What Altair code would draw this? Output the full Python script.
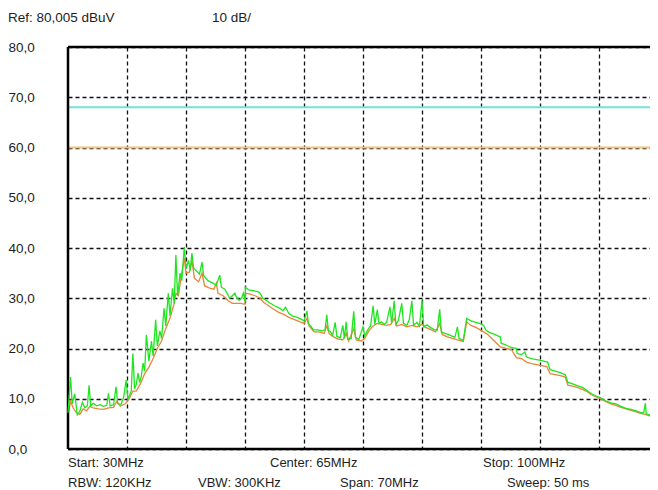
import altair as alt
import pandas as pd

# ---- data (MHz, dBuV) ----
green_trace = [
    (30.0, 7.2), (30.3, 14.3), (30.5, 9.0), (30.8, 11.0), (31.1, 6.8), (31.4, 7.5), (31.7, 9.3),
    (32.0, 8.2), (32.3, 8.6), (32.5, 12.7), (32.7, 8.6), (33.0, 9.1), (33.4, 8.6), (33.8, 8.8),
    (34.2, 8.5), (34.6, 8.7), (34.8, 11.1), (35.0, 8.6), (35.4, 8.8), (35.7, 12.4), (35.9, 9.0),
    (36.3, 8.9), (36.6, 10.3), (36.9, 13.7), (37.1, 10.0), (37.3, 10.7), (37.5, 11.5), (37.7, 19.0),
    (37.9, 12.0), (38.1, 12.8), (38.3, 15.1), (38.5, 13.2), (38.7, 14.5), (38.9, 17.1), (39.1, 15.5),
    (39.3, 22.7), (39.6, 17.5), (39.9, 21.5), (40.1, 18.5), (40.4, 25.7), (40.6, 20.5), (40.9, 23.5),
    (41.1, 22.0), (41.4, 28.0), (41.6, 24.5), (41.9, 31.0), (42.1, 26.5), (42.4, 32.0), (42.6, 29.0),
    (42.8, 38.6), (43.0, 30.5), (43.3, 35.0), (43.5, 33.5), (43.8, 40.2), (44.0, 36.0), (44.3, 37.5),
    (44.5, 35.5), (44.7, 39.0), (44.9, 36.0), (45.2, 35.5), (45.6, 34.8), (45.9, 37.2), (46.1, 34.5),
    (46.6, 33.5), (47.2, 33.0), (47.6, 32.6), (48.0, 34.6), (48.2, 32.2), (48.6, 31.8), (49.2, 30.0),
    (49.5, 30.5), (49.8, 31.0), (50.0, 30.2), (50.3, 29.6), (50.6, 30.0), (50.8, 31.0), (51.0, 29.5),
    (51.05, 32.2), (51.5, 31.6), (52.0, 31.5), (52.5, 31.3), (52.8, 31.0), (53.1, 30.0), (53.5, 29.6),
    (54.0, 29.0), (54.5, 28.5), (55.15, 28.0), (55.5, 27.5), (55.8, 28.2), (56.2, 27.0), (56.6, 26.5),
    (57.2, 26.2), (57.7, 25.8), (58.0, 25.5), (58.35, 27.5), (58.5, 25.0), (58.8, 24.5), (59.1, 23.7),
    (59.6, 23.7), (60.2, 23.5), (60.5, 23.7), (60.7, 26.7), (60.9, 23.5), (61.1, 23.4), (61.4, 22.6),
    (61.7, 25.2), (61.9, 22.4), (62.3, 22.1), (62.6, 24.6), (62.8, 22.0), (63.0, 25.3), (63.2, 21.8),
    (63.6, 22.0), (63.9, 27.4), (64.1, 22.3), (64.5, 21.8), (65.0, 24.3), (65.2, 22.5), (65.6, 23.8),
    (65.9, 24.5), (66.2, 28.5), (66.4, 24.8), (66.7, 27.7), (66.9, 25.0), (67.2, 25.3), (67.5, 24.8),
    (67.8, 25.2), (68.2, 28.3), (68.4, 25.0), (68.7, 29.5), (68.9, 24.8), (69.2, 25.6), (69.6, 29.0),
    (69.8, 25.0), (70.2, 24.6), (70.5, 25.8), (70.8, 29.5), (71.0, 24.6), (71.4, 25.2), (71.7, 24.4),
    (72.0, 29.6), (72.2, 24.3), (72.6, 24.7), (73.0, 24.2), (73.4, 23.8), (73.8, 23.6), (74.1, 27.8),
    (74.3, 23.3), (74.7, 23.0), (75.1, 22.8), (75.5, 22.5), (75.9, 22.2), (76.2, 24.3), (76.4, 22.0),
    (76.9, 21.6), (77.3, 26.0), (77.8, 25.5), (78.4, 25.2), (79.0, 24.9), (79.3, 24.6), (79.6, 23.6),
    (80.0, 23.2), (80.6, 22.8), (81.3, 22.3), (81.4, 21.0), (81.8, 20.8), (82.2, 20.5), (82.6, 20.2),
    (83.2, 20.0), (83.3, 19.0), (83.8, 18.8), (84.2, 19.3), (84.4, 18.3), (85.0, 18.0), (85.6, 17.8),
    (86.2, 17.6), (86.9, 17.3), (87.2, 15.8), (87.8, 15.5), (88.4, 15.2), (89.0, 14.8), (89.3, 13.3),
    (89.8, 13.0), (90.4, 12.6), (91.1, 12.2), (91.6, 11.6), (92.1, 11.0), (92.6, 10.6), (93.2, 10.2),
    (93.8, 9.6), (94.4, 9.2), (95.0, 9.0), (95.6, 8.5), (96.2, 8.1), (96.8, 7.9), (97.4, 7.6),
    (97.9, 7.3), (98.3, 7.2), (98.5, 9.1), (98.6, 7.0), (99.0, 6.8), (99.5, 6.5), (99.9, 6.6),
]

orange_trace = [
    (30.0, 6.8), (30.3, 9.5), (30.6, 8.2), (31.0, 7.2), (31.4, 6.9), (31.8, 8.0), (32.2, 7.6),
    (32.6, 8.5), (33.0, 8.2), (33.6, 8.0), (34.2, 7.9), (34.8, 8.2), (35.4, 8.3), (35.8, 9.5),
    (36.2, 8.5), (36.8, 9.0), (37.2, 9.8), (37.7, 11.5), (38.1, 11.5), (38.6, 13.0), (39.1, 15.0),
    (39.6, 16.3), (40.1, 18.0), (40.6, 20.0), (41.1, 21.5), (41.6, 24.0), (42.1, 26.0), (42.6, 29.0),
    (42.8, 31.0), (43.1, 30.5), (43.4, 34.0), (43.8, 38.0), (44.0, 35.0), (44.4, 35.2), (44.7, 37.5),
    (45.0, 34.0), (45.5, 33.3), (45.9, 35.0), (46.2, 32.5), (46.8, 32.0), (47.3, 31.8), (47.6, 33.0),
    (47.8, 31.0), (48.4, 30.5), (49.0, 29.5), (49.5, 29.0), (50.0, 29.0), (50.5, 29.0), (51.0, 28.8),
    (51.05, 31.0), (51.6, 30.8), (52.2, 30.5), (52.8, 30.0), (53.2, 29.2), (53.8, 28.5), (54.4, 27.8),
    (55.0, 27.2), (55.6, 26.8), (56.2, 26.2), (56.8, 25.8), (57.4, 25.4), (58.0, 25.0), (58.35, 26.0),
    (58.6, 24.5), (59.2, 23.3), (59.8, 23.3), (60.4, 23.0), (60.7, 24.5), (61.0, 22.9), (61.5, 22.3),
    (62.0, 21.9), (62.6, 21.7), (63.0, 23.0), (63.3, 21.5), (63.9, 24.0), (64.2, 21.7), (64.8, 21.5),
    (65.2, 22.0), (65.7, 23.5), (66.2, 24.5), (66.7, 25.0), (67.2, 24.8), (67.8, 24.6), (68.3, 24.8),
    (68.7, 26.0), (69.0, 24.5), (69.6, 24.8), (70.2, 24.3), (70.8, 24.6), (71.4, 24.3), (72.0, 24.8),
    (72.4, 24.2), (73.0, 23.8), (73.6, 23.3), (74.1, 25.0), (74.4, 22.8), (75.0, 22.3), (75.6, 22.0),
    (76.2, 21.7), (76.9, 21.4), (77.3, 25.3), (77.8, 24.6), (78.4, 24.2), (79.0, 23.6), (79.3, 23.3),
    (79.8, 22.8), (80.4, 21.8), (81.0, 20.8), (81.3, 20.3), (82.0, 20.0), (82.6, 19.8), (83.2, 18.2),
    (83.8, 18.0), (84.4, 17.3), (85.0, 17.0), (85.6, 16.8), (86.2, 16.6), (86.8, 16.4), (87.2, 15.0),
    (87.8, 14.8), (88.4, 14.6), (89.0, 14.3), (89.3, 12.7), (89.9, 12.5), (90.5, 12.2), (91.1, 11.8),
    (91.6, 11.4), (92.1, 10.8), (92.6, 10.4), (93.2, 10.0), (93.8, 9.4), (94.4, 9.0), (95.0, 8.7),
    (95.6, 8.3), (96.2, 8.0), (96.8, 7.7), (97.4, 7.4), (97.9, 7.1), (98.5, 6.9), (99.0, 6.6),
    (99.5, 6.4), (99.76, 6.4), (99.77, 43.0),
]

limit_levels = [68.0, 60.0]
limit_colors = ["#6fe3da", "#f3c27c"]
y_ticks = [0, 10, 20, 30, 40, 50, 60, 70, 80]
x_divisions = [37, 44, 51, 58, 65, 72, 79, 86, 93]
x_start, x_stop = 30.0, 100.0
edge_marker = [99.9]

header_texts = ["Ref: 80,005 dBuV", "10 dB/"]
footer_row1 = ["Start: 30MHz", "Center: 65MHz", "Stop: 100MHz"]
footer_row2 = ["RBW: 120KHz", "VBW: 300KHz", "Span: 70MHz", "Sweep: 50  ms"]

# ---- layout ----
FULL_W, W, H = 590, 582, 402   # plot spans 590 px; visible page ends 8 px earlier
FONT = "Liberation Sans"
TXT = "#1e1e1e"

xs = alt.Scale(domain=[x_start, x_stop], range=[0, FULL_W], nice=False, zero=False)
ys = alt.Scale(domain=[0, 80], nice=False, zero=True)

green_df = pd.DataFrame(green_trace, columns=["f", "v"])
orange_df = pd.DataFrame(orange_trace, columns=["f", "v"])
limit_df = pd.DataFrame({"v": limit_levels, "c": limit_colors})

x_axis = alt.Axis(values=x_divisions, grid=True, labels=False, ticks=False, domain=False,
                  title=None, gridDash=[4, 3], gridColor="#111111", gridWidth=1.3)
y_axis = alt.Axis(values=y_ticks, grid=True, ticks=False, tickSize=0, domain=False, title=None,
                  gridDash=[4, 3], gridColor="#111111", gridWidth=1.3,
                  labelExpr="replace(format(datum.value, '.1f'), '.', ',')",
                  labelAlign="left", labelPadding=60, labelOffset=0,
                  labelFont=FONT, labelFontSize=13.5, labelColor=TXT)

orange_line = alt.Chart(orange_df).mark_line(color="#e8863a", strokeWidth=1.3).encode(
    x=alt.X("f:Q", scale=xs, axis=x_axis),
    y=alt.Y("v:Q", scale=ys, axis=y_axis),
    order="f:Q",
)
green_line = alt.Chart(green_df).mark_line(color="#1ee61e", strokeWidth=1.3).encode(
    x=alt.X("f:Q", scale=xs), y=alt.Y("v:Q", scale=ys), order="f:Q",
)
limits = alt.Chart(limit_df).mark_rule(strokeWidth=2).encode(
    y=alt.Y("v:Q", scale=ys), color=alt.Color("c:N", scale=None),
    x=alt.value(0), x2=alt.value(FULL_W),
)
edge = alt.Chart(pd.DataFrame({"f": edge_marker})).mark_rule(color="#f5c9a0", strokeWidth=1).encode(
    x=alt.X("f:Q", scale=xs),
)

# frame (left, top, bottom)
frame_left = alt.Chart(pd.DataFrame({"f": [x_start]})).mark_rule(color="black", strokeWidth=2.5).encode(
    x=alt.X("f:Q", scale=xs))
frame_tb = alt.Chart(pd.DataFrame({"v": [0, 80]})).mark_rule(color="black", strokeWidth=2.5).encode(
    y=alt.Y("v:Q", scale=ys), x=alt.value(0), x2=alt.value(FULL_W))

def label(text, px, py, size=13):
    return alt.Chart(pd.DataFrame({"t": [text]})).mark_text(
        align="left", baseline="middle", font=FONT, fontSize=size, color=TXT
    ).encode(x=alt.value(px), y=alt.value(py), text="t:N")

texts = [
    label(header_texts[0], -60, -29, 13.5),
    label(header_texts[1], 144, -29, 13.5),
]
for t, px in zip(footer_row1, [0, 202, 415]):
    texts.append(label(t, px, 416))
for t, px in zip(footer_row2, [0, 130, 272, 439]):
    texts.append(label(t, px, 436))

chart = alt.layer(
    orange_line, limits, frame_left, frame_tb, edge, green_line,
    alt.Chart(orange_df).mark_line(color="#e8863a", strokeWidth=1.3).encode(
        x=alt.X("f:Q", scale=xs), y=alt.Y("v:Q", scale=ys), order="f:Q"
    ).transform_filter("datum.f > 99.7"),
    *texts,
).properties(
    width=W, height=H,
    autosize=alt.AutoSizeParams(type="none"),
    padding={"left": 60, "top": 39, "right": 0, "bottom": 40},
    background="white",
).configure_view(strokeWidth=0)

chart.save("out.html", embed_options={"renderer": "svg", "actions": False})
